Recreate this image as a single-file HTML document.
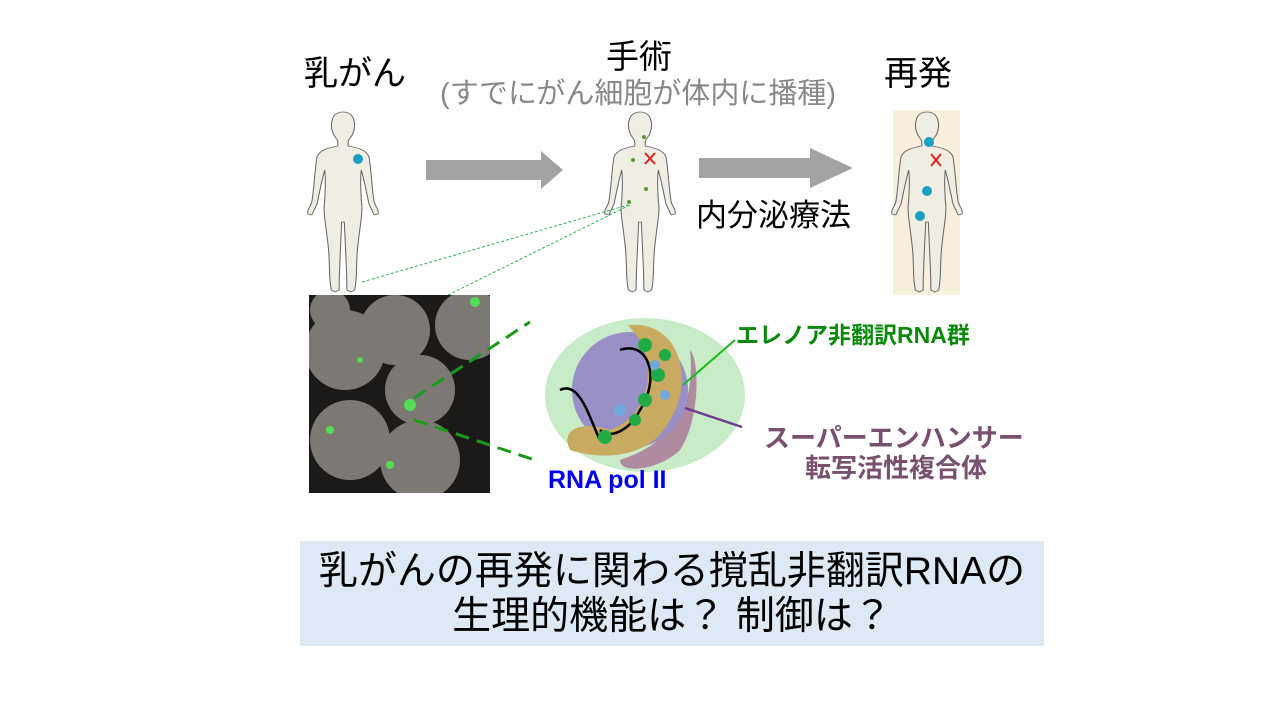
<!DOCTYPE html>
<html><head><meta charset="utf-8"><style>
body{margin:0;width:1280px;height:720px;background:#fff;position:relative;overflow:hidden;font-family:"Liberation Sans","Noto Sans CJK JP",sans-serif}
.t{position:absolute;white-space:nowrap}
</style></head><body>
<div class="t" style="left:304px;top:46px;font-size:34px">乳がん</div>
<div class="t" style="left:606px;top:30px;font-size:33px">手術</div>
<div class="t" style="left:440px;top:70px;font-size:29px;color:#888">(すでにがん細胞が体内に播種)</div>
<div class="t" style="left:884px;top:46px;font-size:34px">再発</div>
<div class="t" style="left:696px;top:190px;font-size:31px">内分泌療法</div>

<svg width="1280" height="720" style="position:absolute;left:0;top:0">
<defs>
<g id="body">
<path d="M0,0 C-9,0 -10,12 -8,20 C-7,25 -4,27 -4,30 L-4,34 C-12,36 -18,38 -20,45 C-22,60 -22,75 -24,90 C-25,95 -28,98 -27,102 L-24,103 L-20,92 C-18,80 -16,66 -14,58 C-13,72 -14,82 -14,88 C-16,100 -12,120 -11,140 C-10,155 -11,165 -9,178 L-6,180 L-3,178 C-3,160 -2,140 -1,110 L1,110 C2,140 3,160 3,178 L6,180 L9,178 C11,165 10,155 11,140 C12,120 16,100 14,88 C14,82 13,72 14,58 C16,66 18,80 20,92 L24,103 L27,102 C28,98 25,95 24,90 C22,75 22,60 20,45 C18,38 12,36 4,34 L4,30 C4,27 7,25 8,20 C10,12 9,0 0,0Z" fill="#f0ede2" stroke="#666" stroke-width="0.8"/>
</g>
<clipPath id="mc"><rect x="309" y="295" width="181" height="198"/></clipPath>
</defs>
<use href="#body" transform="translate(343,112) scale(1.3,1)"/>
<circle cx="358" cy="159" r="5" fill="#1aa0c0"/>
<use href="#body" transform="translate(640,112) scale(1.3,1)"/>
<circle cx="644" cy="137" r="2" fill="#5a9a30"/><circle cx="633" cy="160" r="2" fill="#5a9a30"/>
<circle cx="646" cy="189" r="2" fill="#5a9a30"/><circle cx="629" cy="202" r="2" fill="#5a9a30"/>
<path d="M645,153 L655,164 M655,153 L645,164" stroke="#e02020" stroke-width="2"/>
<rect x="893" y="110" width="67" height="185" fill="#f8f0dc"/>
<use href="#body" transform="translate(927,112) scale(1.3,1)"/>
<circle cx="929" cy="142" r="5" fill="#1aa0c0"/><circle cx="927" cy="191" r="5" fill="#1aa0c0"/><circle cx="920" cy="216" r="5" fill="#1aa0c0"/>
<path d="M931,154 L941,166 M941,154 L931,166" stroke="#e02020" stroke-width="2"/>
<polygon points="426,160 541,160 541,151 563,170 541,189 541,180 426,180" fill="#a3a3a3"/>
<polygon points="699,158 810,158 810,148 853,168 810,188 810,178 699,178" fill="#a3a3a3"/>
<line x1="362" y1="282" x2="628" y2="205" stroke="#2bb55a" stroke-dasharray="3,2"/>
<line x1="448" y1="295" x2="630" y2="205" stroke="#2bb55a" stroke-dasharray="3,2"/>
<rect x="309" y="295" width="181" height="198" fill="#1c1a18"/>
<g clip-path="url(#mc)">
<g fill="#8d8a86" opacity="0.85">
<circle cx="345" cy="350" r="40"/><circle cx="395" cy="330" r="35"/><circle cx="470" cy="325" r="35"/>
<circle cx="420" cy="390" r="35"/><circle cx="350" cy="440" r="40"/><circle cx="420" cy="460" r="40"/><circle cx="330" cy="310" r="20"/>
</g>
<g fill="#5d5"><circle cx="410" cy="405" r="6"/><circle cx="475" cy="302" r="5"/><circle cx="330" cy="430" r="4"/><circle cx="390" cy="465" r="4"/><circle cx="360" cy="360" r="3"/></g>
</g>
<line x1="414" y1="398" x2="530" y2="322" stroke="#1a9a1a" stroke-width="3" stroke-dasharray="14,8"/>
<line x1="414" y1="420" x2="535" y2="460" stroke="#1a9a1a" stroke-width="3" stroke-dasharray="14,8"/>
<ellipse cx="645" cy="395" rx="100" ry="77" fill="#c8ecc8"/>
<path d="M620,460 C680,440 695,400 690,350 C700,360 700,420 680,450 C660,470 620,475 620,460Z" fill="#b08aa0"/>
<circle cx="630" cy="390" r="58" fill="#9a90c8"/>
<path d="M628,325 C680,320 695,380 670,420 C650,460 600,460 570,450 C560,430 580,420 610,430 C640,420 660,380 640,340 Z" fill="#c8aa60"/>
<path d="M560,390 C580,380 590,420 600,440 M620,350 C650,340 660,380 640,410 C630,430 610,440 600,430" stroke="#000" stroke-width="2.5" fill="none"/>
<g fill="#22aa44"><circle cx="645" cy="345" r="7"/><circle cx="658" cy="375" r="7"/><circle cx="645" cy="400" r="7"/><circle cx="605" cy="437" r="7"/><circle cx="635" cy="420" r="6"/><circle cx="665" cy="355" r="6"/></g>
<g fill="#70a8e0"><circle cx="655" cy="365" r="5"/><circle cx="620" cy="410" r="6"/><circle cx="665" cy="395" r="5"/></g>
<line x1="683" y1="385" x2="735" y2="340" stroke="#1ab81a" stroke-width="2"/>
<line x1="685" y1="408" x2="742" y2="427" stroke="#703890" stroke-width="2.5"/>
</svg>
<div class="t" style="left:736px;top:316px;font-size:23px;font-weight:bold;color:#0a8a0a">エレノア非翻訳RNA群</div>
<div class="t" style="left:764px;top:418px;font-size:26px;font-weight:bold;color:#7a5070">スーパーエンハンサー</div>
<div class="t" style="left:805px;top:448px;font-size:26px;font-weight:bold;color:#7a5070">転写活性複合体</div>
<div class="t" style="left:548px;top:466px;font-size:25px;font-weight:bold;color:#0000f0">RNA pol II</div>
<div style="position:absolute;left:300px;top:541px;width:744px;height:105px;background:#dde9f4;text-align:center;font-size:39px;line-height:45px;padding-top:8px;box-sizing:border-box">乳がんの再発に関わる撹乱非翻訳RNAの<br>生理的機能は？ 制御は？</div>
</body></html>
